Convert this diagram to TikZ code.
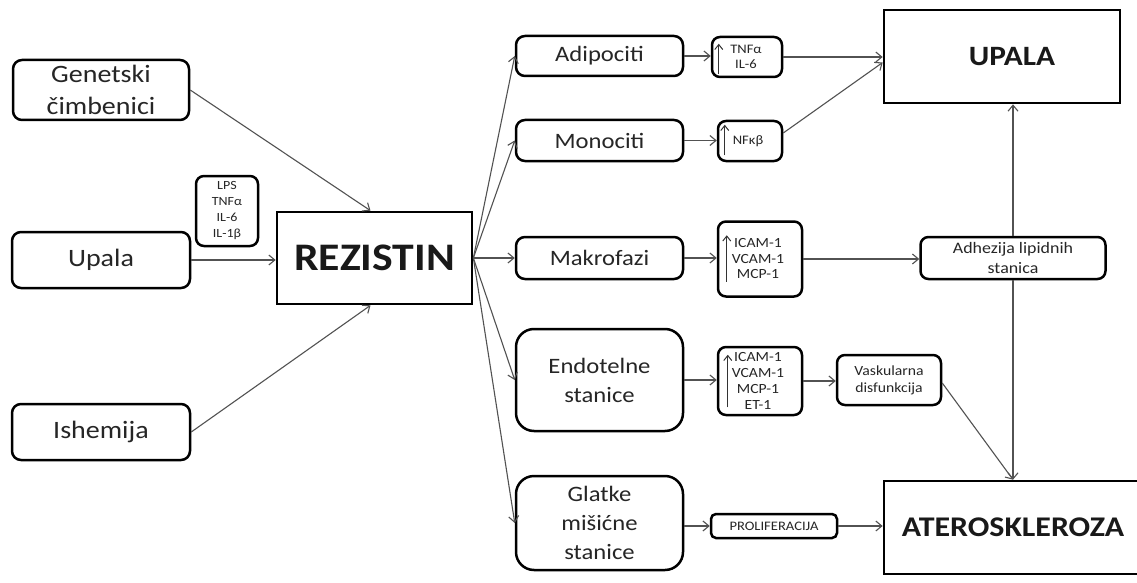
\documentclass[tikz,border=0pt]{standalone}
\usepackage{fontspec}
\setmainfont{Carlito}[FakeStretch=1.12]
\usetikzlibrary{arrows.meta}
\newcommand{\fs}[2]{\fontsize{#1}{#2}\selectfont}
\tikzset{
  rbox/.style={draw=black, line width=2.5pt, rounded corners=#1, fill=white, inner sep=0pt, align=center, text=black!85},
  rbox/.default=9pt,
  sbox/.style={draw=black, line width=2.7pt, fill=white, inner sep=0pt, align=center, text=black!90},
  conn/.style={draw=black!68, line width=1.1pt, -{Straight Barb[length=6pt,width=10pt]}},
  uparr/.style={draw=black!80, line width=1pt, -{Straight Barb[length=5pt,width=8pt]}},
}
\begin{document}
\begin{tikzpicture}[x=1pt,y=-1pt]
\useasboundingbox[fill=white] (0,0) rectangle (1137,583);
% left column
\node[rbox, minimum width=176pt, minimum height=60pt, font=\fs{25}{32}] (gen) at (101,90) {Genetski\\čimbenici};
\node[rbox, minimum width=178pt, minimum height=56pt, font=\fs{25}{31}] (upl) at (101,260) {Upala};
\node[rbox, minimum width=178pt, minimum height=56pt, font=\fs{25}{31}] (ish) at (101,432) {Ishemija};
\node[rbox=8pt, minimum width=62pt, minimum height=70pt, font=\fs{12.5}{16}] (lps) at (227,211) {LPS\\TNFα\\IL-6\\IL-1β};
\node[sbox, minimum width=195pt, minimum height=92pt, font=\fs{39}{44}\bfseries] (rez) at (374.5,258) {REZISTIN};
% middle column
\node[rbox, minimum width=167pt, minimum height=40pt, font=\fs{22}{28}] (adi) at (599.5,56) {Adipociti};
\node[rbox, minimum width=167pt, minimum height=41pt, font=\fs{22}{28}] (mon) at (599.5,140.5) {Monociti};
\node[rbox, minimum width=167pt, minimum height=42pt, font=\fs{22}{28}] (mak) at (599.5,258) {Makrofazi};
\node[rbox=18pt, minimum width=167pt, minimum height=102pt, font=\fs{22}{29}] (end) at (599.5,380) {Endotelne\\stanice};
\node[rbox=18pt, minimum width=167pt, minimum height=94pt, font=\fs{22}{29}] (gla) at (599.5,523) {Glatke\\mišićne\\stanice};
% small boxes
\node[rbox=8pt, minimum width=70pt, minimum height=40pt, font=\fs{13}{15}] (tnf) at (747,57) {\hspace*{-2pt}TNFα\\\hspace*{-2pt}IL-6};
\node[rbox=8pt, minimum width=64pt, minimum height=40pt, font=\fs{13}{15}] (nfk) at (750,141) {\hspace*{-4pt}NFκβ};
\node[rbox=8pt, minimum width=84pt, minimum height=75pt, font=\fs{14}{15.5}] (ica1) at (760,259) {\hspace*{-4pt}ICAM-1\\\hspace*{-4pt}VCAM-1\\\hspace*{-4pt}MCP-1};
\node[rbox=8pt, minimum width=84pt, minimum height=68pt, font=\fs{14}{16}] (ica2) at (760,381) {\hspace*{-4pt}ICAM-1\\\hspace*{-4pt}VCAM-1\\\hspace*{-4pt}MCP-1\\\hspace*{-4pt}ET-1};
\node[rbox=8pt, minimum width=104pt, minimum height=50pt, font=\fs{14}{17}] (vas) at (889,380) {Vaskularna\\disfunkcija};
\node[rbox=5pt, minimum width=126pt, minimum height=24pt, font=\fs{13}{15}] (pro) at (774,526) {PROLIFERACIJA};
\node[rbox=8pt, minimum width=185pt, minimum height=42pt, font=\fs{16}{20}] (adh) at (1013,258) {Adhezija lipidnih\\stanica};
% big right boxes
\node[sbox, minimum width=236pt, minimum height=93pt, font=\fs{28}{34}\bfseries] (upa) at (1002,56.5) {\hspace*{20pt}UPALA};
\node[sbox, minimum width=262pt, minimum height=93pt, font=\fs{28.5}{34}\bfseries] (ate) at (1015,527.5) {\hspace*{-4pt}ATEROSKLEROZA};
% arrows inside small boxes
\draw[uparr] ([xshift=8pt,yshift=4pt]tnf.south west) -- ([xshift=8pt,yshift=-8pt]tnf.north west);
\draw[uparr] ([xshift=8pt,yshift=7pt]nfk.south west) -- ([xshift=8pt,yshift=-5pt]nfk.north west);
\draw[uparr] ([xshift=10pt,yshift=16pt]ica1.south west) -- ([xshift=10pt,yshift=-15pt]ica1.north west);
\draw[uparr] ([xshift=11pt,yshift=9pt]ica2.south west) -- ([xshift=11pt,yshift=-9pt]ica2.north west);
% connectors
\draw[conn] (gen.east) -- ([xshift=-4pt]rez.north);
\draw[conn] (upl.east) -- (upl.east -| rez.west);
\draw[conn] (ish.east) -- ([xshift=-4pt]rez.south);
\draw[conn] (rez.east) -- (adi.west);
\draw[conn] (rez.east) -- (mon.west);
\draw[conn] (rez.east) -- (mak.west);
\draw[conn] (rez.east) -- (end.west);
\draw[conn] (rez.east) -- (gla.west);
\draw[conn] (adi.east) -- (adi.east -| tnf.west);
\draw[conn] (mon.east) -- (mon.east -| nfk.west);
\draw[conn] (tnf.east) -- (tnf.east -| upa.west);
\draw[conn] ([yshift=8pt]nfk.east) -- ([yshift=-6pt]upa.west);
\draw[conn] (mak.east) -- (mak.east -| ica1.west);
\draw[conn] (ica1.east) -- (ica1.east -| adh.west);
\draw[conn] (adh.north) -- (adh.north |- upa.south);
\draw[conn] (adh.south) -- (adh.south |- ate.north);
\draw[conn] (end.east) -- (end.east -| ica2.west);
\draw[conn] (ica2.east) -- (ica2.east -| vas.west);
\draw[conn] ([yshift=-3pt]vas.east) -- (adh.south |- ate.north);
\draw[conn] (pro.west -| gla.east) -- (pro.west);
\draw[conn] (pro.east) -- (pro.east -| ate.west);
\end{tikzpicture}
\end{document}
